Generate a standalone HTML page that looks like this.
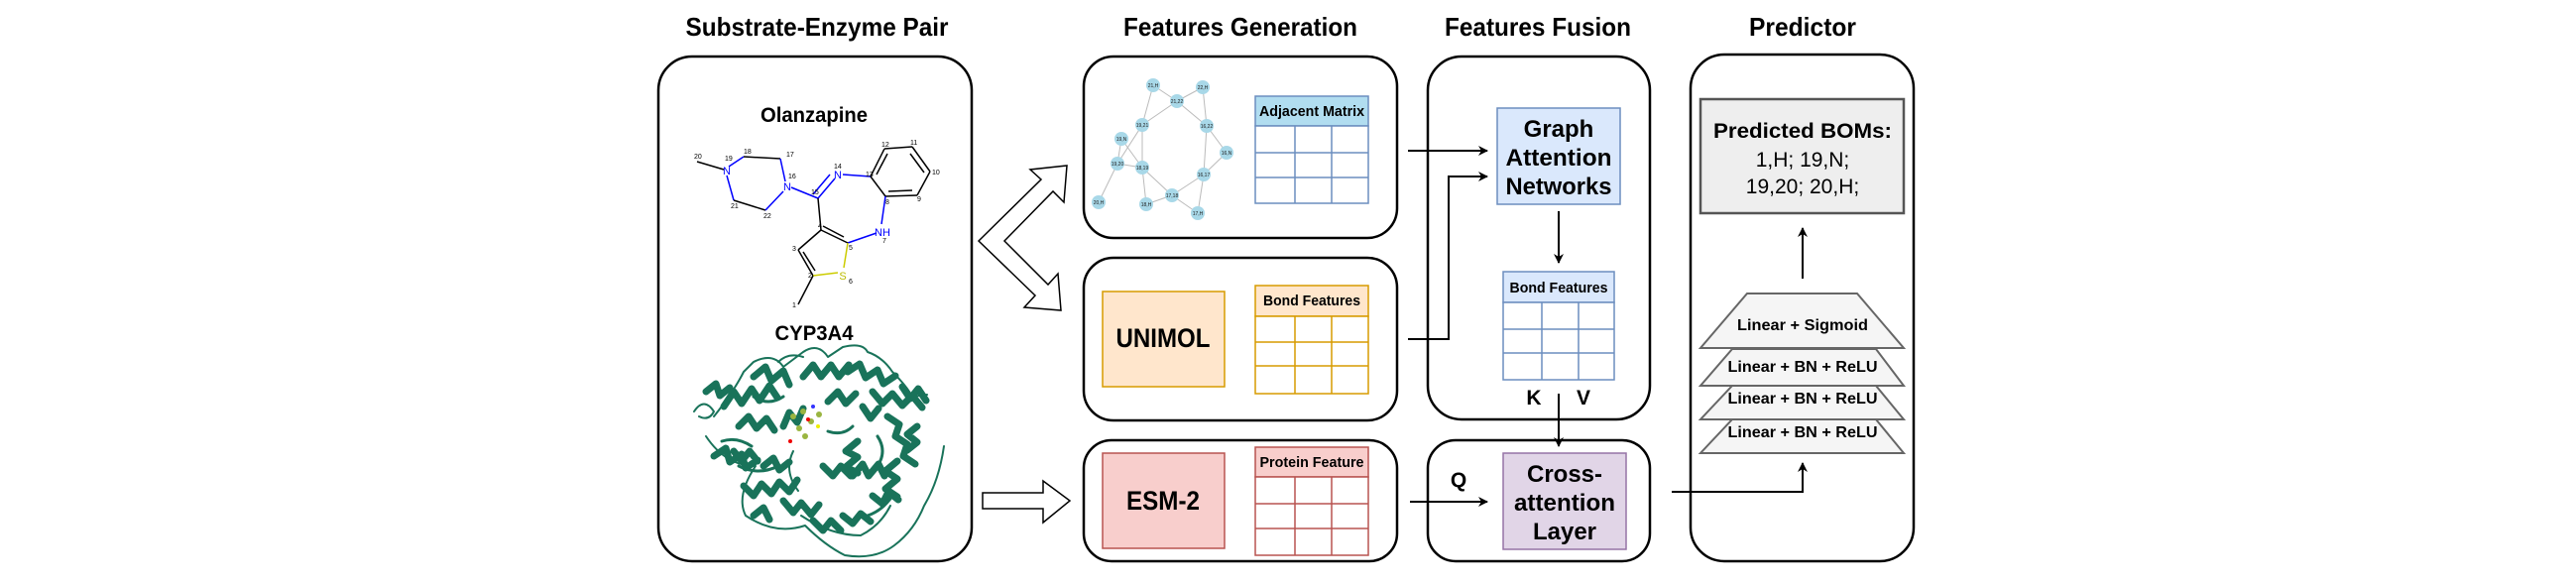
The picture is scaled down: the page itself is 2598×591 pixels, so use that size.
<!DOCTYPE html>
<html><head><meta charset="utf-8"><style>
html,body{margin:0;padding:0;background:#fff;}
svg{display:block;font-family:"Liberation Sans",Arial,sans-serif;}
</style></head><body>
<svg width="2598" height="591" viewBox="0 0 2598 591" xmlns="http://www.w3.org/2000/svg">
<defs>
<marker id="ah" markerWidth="10" markerHeight="10" refX="9" refY="5" orient="auto" markerUnits="userSpaceOnUse">
<path d="M0,0 L10,5 L0,10 L3,5 Z" fill="#000"/>
</marker>
</defs>
<rect width="2598" height="591" fill="#fff"/>

<!-- Titles -->
<g font-weight="bold" font-size="26" text-anchor="middle" fill="#000">
<text x="824" y="36" textLength="265" lengthAdjust="spacingAndGlyphs">Substrate-Enzyme Pair</text>
<text x="1251" y="36" textLength="236" lengthAdjust="spacingAndGlyphs">Features Generation</text>
<text x="1551" y="36" textLength="188" lengthAdjust="spacingAndGlyphs">Features Fusion</text>
<text x="1818" y="36" textLength="108" lengthAdjust="spacingAndGlyphs">Predictor</text>
</g>

<!-- Main boxes -->
<g fill="none" stroke="#000" stroke-width="2.5">
<rect x="664" y="57" width="316" height="509" rx="34"/>
<rect x="1093" y="57" width="316" height="183" rx="30"/>
<rect x="1093" y="260" width="316" height="164" rx="30"/>
<rect x="1093" y="444" width="316" height="122" rx="28"/>
<rect x="1440" y="57" width="224" height="366" rx="34"/>
<rect x="1440" y="444" width="224" height="122" rx="28"/>
<rect x="1705" y="55" width="225" height="511" rx="34"/>
</g>

<!-- Left panel texts -->
<g font-weight="bold" font-size="21" text-anchor="middle">
<text x="821" y="123" textLength="108" lengthAdjust="spacingAndGlyphs">Olanzapine</text>
<text x="821" y="343" textLength="79" lengthAdjust="spacingAndGlyphs">CYP3A4</text>
</g>

<!-- Molecule -->
<g stroke="#000" stroke-width="1.5" fill="none">
<line x1="703" y1="163" x2="730" y2="171"/>
<line x1="735" y1="168" x2="750" y2="158" stroke="#00f"/>
<line x1="750" y1="158" x2="787" y2="160"/>
<line x1="787" y1="160" x2="792" y2="183" stroke="#00f"/>
<line x1="733" y1="177" x2="740" y2="202" stroke="#00f"/>
<line x1="740" y1="202" x2="772" y2="212"/>
<line x1="772" y1="212" x2="790" y2="193" stroke="#00f"/>
<line x1="798" y1="189" x2="825" y2="200" stroke="#00f"/>
<line x1="825" y1="200" x2="842" y2="180" stroke="#00f"/>
<line x1="820" y1="196" x2="837" y2="176" stroke="#00f"/>
<line x1="850" y1="176" x2="878" y2="178" stroke="#00f"/>
<line x1="878" y1="178" x2="892" y2="150"/>
<line x1="884" y1="176" x2="895" y2="155"/>
<line x1="892" y1="150" x2="920" y2="148"/>
<line x1="920" y1="148" x2="938" y2="173"/>
<line x1="918" y1="155" x2="932" y2="174"/>
<line x1="938" y1="173" x2="925" y2="197"/>
<line x1="925" y1="197" x2="893" y2="198"/>
<line x1="920" y1="192" x2="896" y2="193"/>
<line x1="893" y1="198" x2="878" y2="178"/>
<line x1="893" y1="198" x2="889" y2="226" stroke="#00f"/>
<line x1="884" y1="235" x2="855" y2="245" stroke="#00f"/>
<line x1="855" y1="245" x2="828" y2="232"/>
<line x1="851" y1="239" x2="830" y2="228"/>
<line x1="828" y1="232" x2="825" y2="200"/>
<line x1="828" y1="232" x2="805" y2="252"/>
<line x1="805" y1="252" x2="820" y2="278"/>
<line x1="810" y1="254" x2="822" y2="273"/>
<line x1="820" y1="278" x2="845" y2="275" stroke="#cc0"/>
<line x1="855" y1="245" x2="851" y2="270" stroke="#cc0"/>
<line x1="820" y1="278" x2="805" y2="307"/>
</g>
<g font-size="7" fill="#000">
<text x="700" y="160">20</text><text x="731" y="162">19</text><text x="750" y="155">18</text>
<text x="793" y="158">17</text><text x="795" y="180">16</text><text x="737" y="210">21</text>
<text x="770" y="220">22</text><text x="818" y="196">15</text><text x="841" y="170">14</text>
<text x="873" y="178">13</text><text x="889" y="148">12</text><text x="918" y="146">11</text>
<text x="940" y="176">10</text><text x="925" y="203">9</text><text x="893" y="206">8</text>
<text x="890" y="245">7</text><text x="856" y="252">5</text><text x="825" y="230">4</text>
<text x="799" y="253">3</text><text x="815" y="280">2</text><text x="856" y="286">6</text>
<text x="799" y="310">1</text>
</g>
<g font-size="11" text-anchor="middle">
<text x="733" y="176" fill="#00f">N</text>
<text x="794" y="192" fill="#00f">N</text>
<text x="845" y="180" fill="#00f">N</text>
<text x="890" y="238" fill="#00f">NH</text>
<text x="850" y="282" fill="#bb0">S</text>
</g>

<!-- Protein -->
<g fill="none" stroke="#19735a" stroke-linecap="round" stroke-linejoin="round">
<path stroke-width="2" d="M700,415 q10,-15 20,0 q-5,10 -15,5 M720,420 q20,-25 30,-45 l10,-10 q20,-10 30,5 l20,-15 q15,-10 25,5 l15,-10 q20,-5 25,5 q15,5 25,20 q15,15 20,25 l15,-2 M712,440 q20,30 50,30 q-20,30 -10,50 q30,20 60,10 q20,20 40,30 q30,5 50,-10 q20,-15 30,-40 q15,-25 20,-60 M808,520 q30,20 60,20 q20,-10 30,-30 M785,365 q10,-10 25,-5 M800,455 q-10,20 5,40"/>
<path stroke-width="7" d="M730,410 l10,-15 l8,12 l10,-15 l8,12 l10,-15 l8,12 M760,380 l12,-10 l6,14 l12,-10 l6,14 M810,380 l10,-12 l8,12 l10,-12 l8,12 l10,-12 M855,375 l12,-8 l6,14 l12,-8 l6,14 l12,-8 M880,395 l10,12 l10,-10 l10,12 l10,-10 l10,12 M895,420 l12,8 l-4,12 l12,8 l-4,12 l12,8 M905,465 l-12,10 l12,8 l-12,10 l12,8 M720,460 l12,-8 l4,14 l12,-8 l4,14 l12,-8 M750,490 l10,10 l8,-12 l10,10 l8,-12 l10,10 l8,-12 M790,505 l10,12 l8,-10 l10,12 l8,-10 M820,525 l10,10 l8,-10 l10,10 M860,480 l10,-12 l6,12 l10,-12 l6,12 M865,445 l-12,10 l12,6 l-12,10 l12,6 M745,430 l10,-10 l8,12 l10,-10 l8,12 M790,430 l6,-14 l8,10 l6,-14 M850,520 l10,8 l8,-10 l10,8 M835,405 l10,-10 l8,12 l10,-10 M712,395 l10,-8 l4,12 l10,-8 M740,455 l8,10 l8,-10 l8,10 M770,470 l10,-8 l6,12 l10,-8 M830,470 l10,10 l8,-10 l10,10 M880,500 l10,8 l6,-12 l10,8 M910,390 l8,12 l8,-10 l8,12 M925,430 l-10,8 l10,8 l-10,8 M760,520 l10,-8 l6,12 M870,410 l8,12 l8,-10"/>
<path stroke-width="3" d="M728,445 q15,-5 30,5 M745,470 q20,10 40,0 M885,440 q10,15 0,30 M900,500 q-10,15 -25,20 M760,400 q15,10 30,0 M860,430 q-10,10 -25,5"/>
</g>
<g>
<circle cx="800" cy="420" r="3" fill="#9ab540"/><circle cx="810" cy="415" r="3" fill="#9ab540"/><circle cx="818" cy="425" r="3" fill="#9ab540"/>
<circle cx="806" cy="432" r="3" fill="#9ab540"/><circle cx="826" cy="418" r="3" fill="#9ab540"/><circle cx="812" cy="440" r="3" fill="#9ab540"/>
<circle cx="820" cy="410" r="2" fill="#33f"/><circle cx="815" cy="423" r="2" fill="#e00"/><circle cx="797" cy="445" r="2" fill="#e00"/><circle cx="825" cy="430" r="2" fill="#ee0"/>
</g>

<!-- Hollow arrows -->
<polygon points="987,243 1050,181 1039,171 1076,167 1073,204 1062,193 1013,243 1057,287 1067,276 1070,313 1033,310 1044,298" fill="#fff" stroke="#000" stroke-width="1.5"/>
<polygon points="991,497 1052,497 1052,485 1079,505 1052,527 1052,513 991,513" fill="#fff" stroke="#000" stroke-width="1.5"/>

<!-- Graph -->
<g stroke="#bbb" stroke-width="1">
<line x1="1163" y1="86" x2="1152" y2="126"/><line x1="1163" y1="86" x2="1187" y2="102"/>
<line x1="1213" y1="88" x2="1187" y2="102"/><line x1="1213" y1="88" x2="1217" y2="127"/>
<line x1="1187" y1="102" x2="1152" y2="126"/><line x1="1187" y1="102" x2="1217" y2="127"/>
<line x1="1217" y1="127" x2="1237" y2="154"/><line x1="1217" y1="127" x2="1214" y2="176"/>
<line x1="1237" y1="154" x2="1214" y2="176"/><line x1="1152" y1="126" x2="1152" y2="169"/>
<line x1="1152" y1="126" x2="1127" y2="165"/><line x1="1131" y1="140" x2="1152" y2="169"/>
<line x1="1131" y1="140" x2="1127" y2="165"/><line x1="1127" y1="165" x2="1108" y2="204"/>
<line x1="1127" y1="165" x2="1152" y2="169"/><line x1="1152" y1="169" x2="1156" y2="206"/>
<line x1="1152" y1="169" x2="1182" y2="197"/><line x1="1156" y1="206" x2="1182" y2="197"/>
<line x1="1182" y1="197" x2="1214" y2="176"/><line x1="1182" y1="197" x2="1208" y2="215"/>
<line x1="1214" y1="176" x2="1208" y2="215"/>
</g>
<g fill="#a8d8e8">
<circle cx="1163" cy="86" r="7"/><circle cx="1213" cy="88" r="7"/><circle cx="1187" cy="102" r="7"/>
<circle cx="1152" cy="126" r="7"/><circle cx="1217" cy="127" r="7"/><circle cx="1131" cy="140" r="7"/>
<circle cx="1237" cy="154" r="7"/><circle cx="1127" cy="165" r="7"/><circle cx="1152" cy="169" r="7"/>
<circle cx="1214" cy="176" r="7"/><circle cx="1182" cy="197" r="7"/><circle cx="1108" cy="204" r="7"/>
<circle cx="1156" cy="206" r="7"/><circle cx="1208" cy="215" r="7"/>
</g>
<g font-size="5" text-anchor="middle" fill="#222">
<text x="1163" y="88">21,H</text><text x="1213" y="90">22,H</text><text x="1187" y="104">21,22</text>
<text x="1152" y="128">19,21</text><text x="1217" y="129">16,22</text><text x="1131" y="142">19,N</text>
<text x="1237" y="156">16,N</text><text x="1127" y="167">19,20</text><text x="1152" y="171">18,19</text>
<text x="1214" y="178">16,17</text><text x="1182" y="199">17,18</text><text x="1108" y="206">20,H</text>
<text x="1156" y="208">18,H</text><text x="1208" y="217">17,H</text>
</g>

<!-- Tables -->
<g stroke-width="1.5">
<rect x="1266" y="97" width="114" height="30" fill="#b1ddf0" stroke="#6c8ebf"/>
<rect x="1266" y="127" width="114" height="78" fill="#fff" stroke="#6c8ebf"/>
<path d="M1266,154 H1380 M1266,179 H1380 M1306,127 V205 M1343,127 V205" stroke="#6c8ebf"/>
<rect x="1266" y="288" width="114" height="31" fill="#ffe6cc" stroke="#d79b00"/>
<rect x="1266" y="319" width="114" height="78" fill="#fff" stroke="#d79b00"/>
<path d="M1266,345 H1380 M1266,369 H1380 M1306,319 V397 M1343,319 V397" stroke="#d79b00"/>
<rect x="1266" y="451" width="114" height="30" fill="#f8cecc" stroke="#b85450"/>
<rect x="1266" y="481" width="114" height="79" fill="#fff" stroke="#b85450"/>
<path d="M1266,508 H1380 M1266,533 H1380 M1306,481 V560 M1343,481 V560" stroke="#b85450"/>
<rect x="1516" y="274" width="112" height="31" fill="#dae8fc" stroke="#6c8ebf"/>
<rect x="1516" y="305" width="112" height="78" fill="#fff" stroke="#6c8ebf"/>
<path d="M1516,332 H1628 M1516,356 H1628 M1555,305 V383 M1592,305 V383" stroke="#6c8ebf"/>
<rect x="1112" y="294" width="123" height="96" fill="#ffe6cc" stroke="#d79b00"/>
<rect x="1112" y="457" width="123" height="96" fill="#f8cecc" stroke="#b85450"/>
<rect x="1510" y="109" width="124" height="97" fill="#dae8fc" stroke="#6c8ebf"/>
<rect x="1516" y="457" width="124" height="97" fill="#e1d5e7" stroke="#9673a6"/>
</g>
<g font-weight="bold" font-size="15" text-anchor="middle">
<text x="1323" y="117" textLength="106" lengthAdjust="spacingAndGlyphs">Adjacent Matrix</text>
<text x="1323" y="308" textLength="98" lengthAdjust="spacingAndGlyphs">Bond Features</text>
<text x="1323" y="471" textLength="105" lengthAdjust="spacingAndGlyphs">Protein Feature</text>
<text x="1572" y="295" textLength="99" lengthAdjust="spacingAndGlyphs">Bond Features</text>
</g>
<g font-weight="bold" font-size="24" text-anchor="middle">
<text x="1173" y="350" font-size="27" textLength="95" lengthAdjust="spacingAndGlyphs">UNIMOL</text>
<text x="1173" y="514" font-size="27" textLength="74" lengthAdjust="spacingAndGlyphs">ESM-2</text>
<text x="1572" y="138">Graph</text>
<text x="1572" y="167" textLength="107" lengthAdjust="spacingAndGlyphs">Attention</text>
<text x="1572" y="196" textLength="107" lengthAdjust="spacingAndGlyphs">Networks</text>
<text x="1578" y="486">Cross-</text>
<text x="1578" y="515" textLength="102" lengthAdjust="spacingAndGlyphs">attention</text>
<text x="1578" y="544">Layer</text>
<text x="1547" y="408" font-size="21">K</text>
<text x="1597" y="408" font-size="21">V</text>
<text x="1471" y="491" font-size="21">Q</text>
</g>

<!-- Connectors -->
<g stroke="#000" stroke-width="2" fill="none" marker-end="url(#ah)">
<path d="M1420,152 H1500"/>
<path d="M1420,342 H1461 V178 H1500"/>
<path d="M1572,213 V265"/>
<path d="M1572,397 V450"/>
<path d="M1422,506 H1500"/>
<path d="M1686,496 H1818 V467"/>
<path d="M1818,281 V230"/>
</g>

<!-- Predictor -->
<rect x="1715" y="100" width="205" height="115" fill="#eeeeee" stroke="#555" stroke-width="2.5"/>
<g text-anchor="middle" font-size="21">
<text x="1818" y="139" font-weight="bold" textLength="180" lengthAdjust="spacingAndGlyphs">Predicted BOMs:</text>
<text x="1818" y="168">1,H; 19,N;</text>
<text x="1818" y="195">19,20; 20,H;</text>
</g>
<g fill="#f5f5f5" stroke="#666" stroke-width="2">
<polygon points="1747,423 1892,423 1920,457 1715,457"/>
<polygon points="1747,389 1892,389 1920,423 1715,423"/>
<polygon points="1747,352 1892,352 1920,389 1715,389"/>
<polygon points="1762,296 1873,296 1920,351 1715,351"/>
</g>
<g font-weight="bold" font-size="16" text-anchor="middle">
<text x="1818" y="333" textLength="132" lengthAdjust="spacingAndGlyphs">Linear + Sigmoid</text>
<text x="1818" y="375" textLength="151" lengthAdjust="spacingAndGlyphs">Linear + BN + ReLU</text>
<text x="1818" y="407" textLength="151" lengthAdjust="spacingAndGlyphs">Linear + BN + ReLU</text>
<text x="1818" y="441" textLength="151" lengthAdjust="spacingAndGlyphs">Linear + BN + ReLU</text>
</g>
</svg>
</body></html>
